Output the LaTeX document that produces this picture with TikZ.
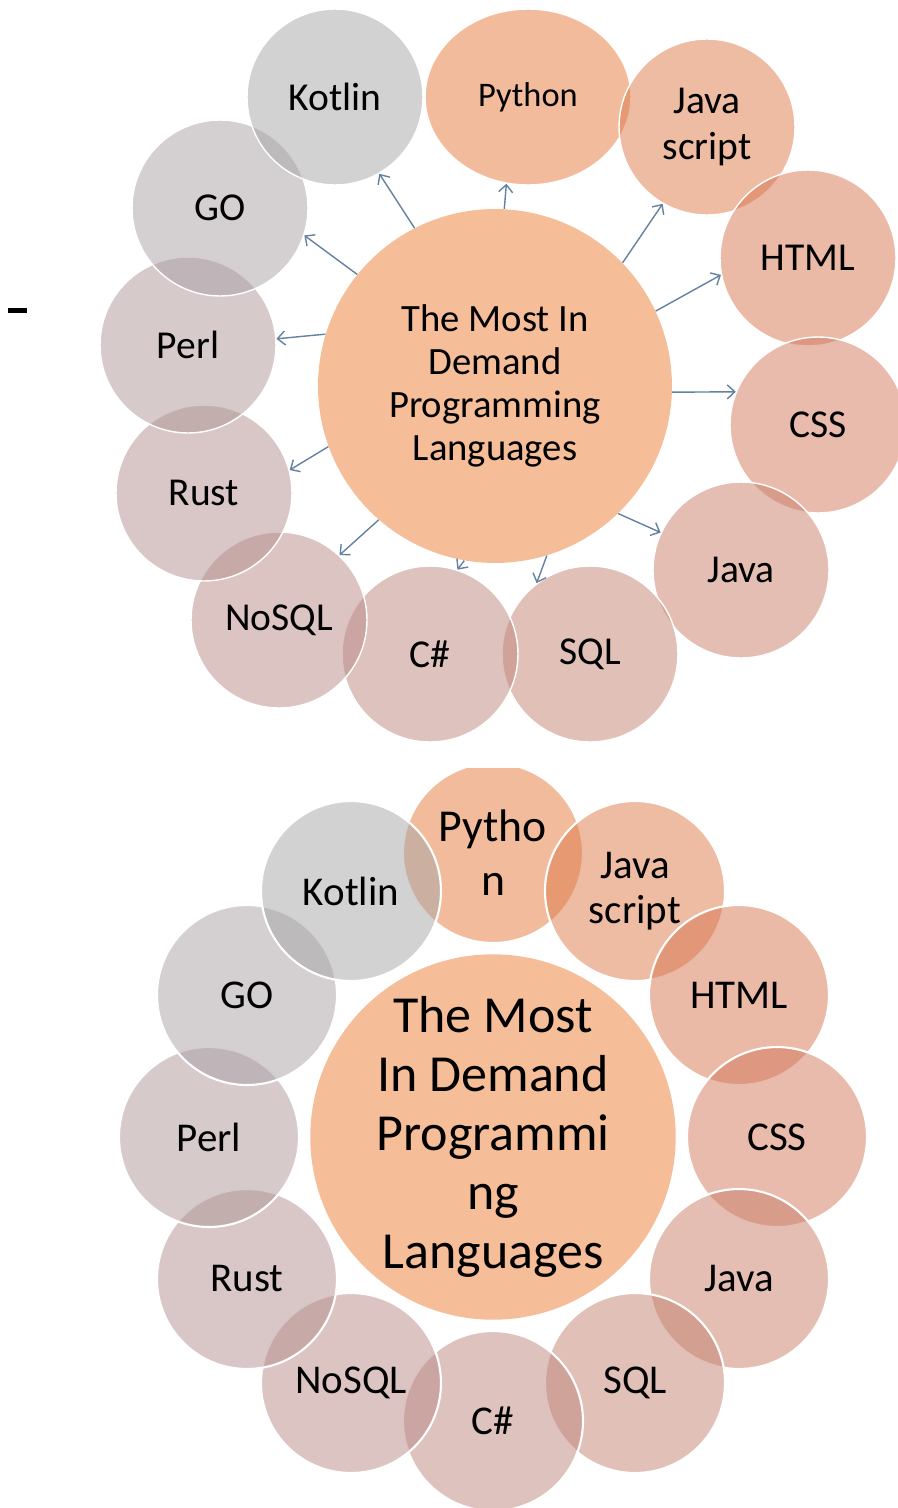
\documentclass[tikz,border=0pt]{standalone}
\usepackage{fontspec}
\setmainfont{Carlito}
\usetikzlibrary{arrows.meta,shapes.geometric}

\definecolor{cpython}{RGB}{229,121,57}
\definecolor{cjs}{RGB}{221,119,71}
\definecolor{chtml}{RGB}{215,117,79}
\definecolor{ccss}{RGB}{209,119,91}
\definecolor{cjava}{RGB}{201,125,103}
\definecolor{csql}{RGB}{195,129,113}
\definecolor{ccsharp}{RGB}{189,133,125}
\definecolor{cnosql}{RGB}{185,137,135}
\definecolor{crust}{RGB}{179,143,143}
\definecolor{cperl}{RGB}{173,149,151}
\definecolor{cgo}{RGB}{169,159,163}
\definecolor{ckotlin}{RGB}{165,165,167}
\definecolor{hubfill}{RGB}{245,189,152}
\definecolor{pointerblue}{RGB}{100,130,160}

\begin{document}
\begin{tikzpicture}[x=0.02cm,y=-0.02cm,
    bubble/.style={circle,draw=white,line width=0.8pt,fill opacity=0.5,text opacity=1,
        minimum size=3.52cm,inner sep=0pt,align=center,font=\fontsize{22.5}{26.7}\selectfont},
    bubble2/.style={bubble,minimum size=3.6cm,line width=1.2pt,font=\fontsize{23.3}{25.6}\selectfont},
    hub/.style={circle,fill=hubfill,inner sep=0pt,align=center},
    pointer/.style={draw=pointerblue,line width=0.8pt,-{Straight Barb[length=1.5mm,width=2.8mm]}}]
\useasboundingbox (0,0) rectangle (897,1508);
\fill (8,308) rectangle (27,313);
% first picture: hub with arrows
\node[bubble,ellipse,minimum width=4.12cm,minimum height=3.52cm,fill=cpython,
    font=\fontsize{19.6}{23}\selectfont] (python) at (528,97) {Python};
\node[bubble,fill=cjs] (js) at (707,127) {Java\\script};
\node[bubble,fill=chtml] (html) at (808,258) {HTML};
\node[bubble,fill=ccss] (css) at (818,425) {CSS};
\node[bubble,fill=cjava] (java) at (741,570) {Java};
\node[bubble,fill=csql] (sql) at (590,654) {SQL};
\node[bubble,fill=ccsharp] (csharp) at (430,654) {C\#};
\node[bubble,fill=cnosql] (nosql) at (279,620) {NoSQL};
\node[bubble,fill=crust] (rust) at (204,493) {Rust};
\node[bubble,fill=cperl] (perl) at (188,345) {Perl};
\node[bubble,fill=cgo] (go) at (220,208) {GO};
\node[bubble,fill=ckotlin] (kotlin) at (335,97) {Kotlin};
\node[hub,minimum size=7.08cm,font=\fontsize{22}{24.5}\selectfont] (core) at (495,386)
    {The Most In\\Demand\\Programming\\Languages};
\draw[pointer] (core.117) -- (kotlin.300);
\draw[pointer] (core.141) -- (go.342);
\draw[pointer] (core.163) -- (perl.4);
\draw[pointer] (core.200) -- (rust.15);
\draw[pointer] (core.229) -- (nosql.47);
\draw[pointer] (core.260) -- (csharp.72);
\draw[pointer] (core.287) -- (sql.127);
\draw[pointer] (core.314) -- (java.155);
\draw[pointer] (core.358) -- (css.158);
\draw[pointer] (core.25) -- (html.191);
\draw[pointer] (core.44) -- (js.240);
\draw[pointer] (core.87) -- (python.256);
% second picture: ring of bubbles
\begin{scope}
\clip (0,768) rectangle (897,1508);
\node[bubble2,fill=cpython,font=\fontsize{26}{30.7}\selectfont] (python2) at (493,853) {Pytho\\n};
\node[bubble2,fill=cjs] (js2) at (635,891) {Java\\script};
\node[bubble2,fill=chtml] (html2) at (739,995) {HTML};
\node[bubble2,fill=ccss] (css2) at (777,1137) {CSS};
\node[bubble2,fill=cjava] (java2) at (739,1279) {Java};
\node[bubble2,fill=csql] (sql2) at (635,1383) {SQL};
\node[bubble2,fill=ccsharp] (csharp2) at (493,1421) {C\#};
\node[bubble2,fill=cnosql] (nosql2) at (351,1383) {NoSQL};
\node[bubble2,fill=crust] (rust2) at (247,1279) {Rust};
\node[bubble2,fill=cperl] (perl2) at (209,1137) {Perl};
\node[bubble2,fill=cgo] (go2) at (247,995) {GO};
\node[bubble2,fill=ckotlin] (kotlin2) at (351,891) {Kotlin};
\node[hub,minimum size=7.24cm,font=\fontsize{29.6}{33.6}\selectfont] (core2) at (493,1137)
    {The Most\\In Demand\\Programmi\\ng\\Languages};
\end{scope}
\end{tikzpicture}
\end{document}
